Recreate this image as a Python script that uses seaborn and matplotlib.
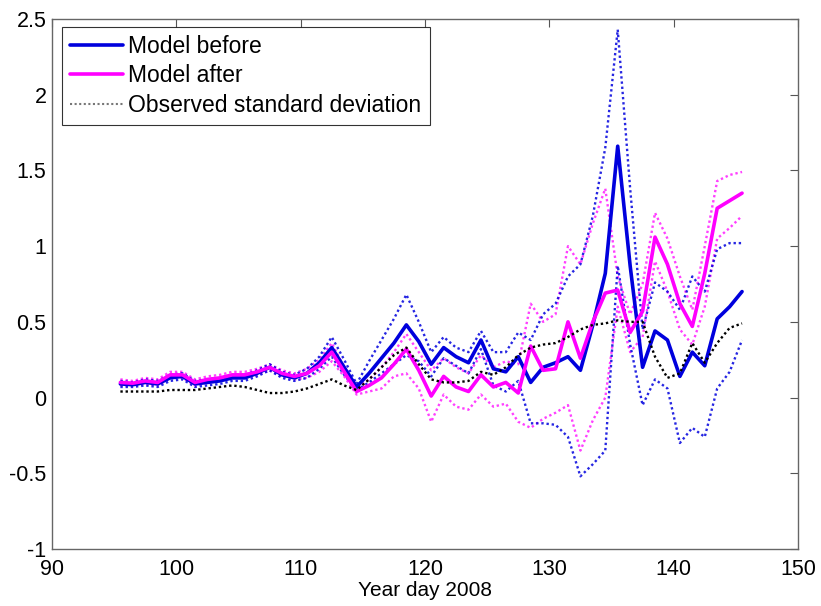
import numpy as np
import pandas as pd
import matplotlib
matplotlib.use("Agg")
import matplotlib.pyplot as plt
import seaborn as sns

days = [95.5, 96.5, 97.5, 98.5, 99.5, 100.5, 101.5, 102.5, 103.5, 104.5,
        105.5, 106.5, 107.5, 108.5, 109.5, 110.5, 111.5, 112.5, 113.5, 114.5,
        115.5, 116.5, 117.5, 118.5, 119.5, 120.5, 121.5, 122.5, 123.5, 124.5,
        125.5, 126.5, 127.5, 128.5, 129.5, 130.5, 131.5, 132.5, 133.5, 134.5,
        135.5, 136.5, 137.5, 138.5, 139.5, 140.5, 141.5, 142.5, 143.5, 144.5,
        145.5]

model_before = [0.09, 0.085, 0.10, 0.09, 0.13, 0.14, 0.09, 0.10, 0.11, 0.13,
                0.13, 0.16, 0.20, 0.15, 0.13, 0.16, 0.23, 0.33, 0.20, 0.07,
                0.16, 0.26, 0.36, 0.48, 0.37, 0.22, 0.33, 0.27, 0.23, 0.38,
                0.19, 0.17, 0.27, 0.10, 0.20, 0.23, 0.27, 0.18, 0.48, 0.82,
                1.66, 0.87, 0.20, 0.44, 0.38, 0.14, 0.30, 0.21, 0.52, 0.60,
                0.70]

model_after = [0.10, 0.095, 0.11, 0.10, 0.15, 0.15, 0.10, 0.12, 0.13, 0.15,
               0.15, 0.17, 0.20, 0.16, 0.14, 0.16, 0.21, 0.30, 0.17, 0.04,
               0.08, 0.13, 0.22, 0.32, 0.18, 0.01, 0.14, 0.07, 0.04, 0.15,
               0.07, 0.10, 0.03, 0.34, 0.18, 0.19, 0.50, 0.26, 0.50, 0.69,
               0.71, 0.43, 0.57, 1.06, 0.88, 0.62, 0.47, 0.82, 1.25, 1.30,
               1.35]

observed_std = [0.04, 0.04, 0.04, 0.04, 0.05, 0.05, 0.05, 0.06, 0.07, 0.08,
                0.07, 0.05, 0.03, 0.03, 0.04, 0.06, 0.09, 0.12, 0.08, 0.05,
                0.12, 0.20, 0.28, 0.33, 0.22, 0.12, 0.10, 0.10, 0.11, 0.17,
                0.15, 0.20, 0.28, 0.33, 0.35, 0.36, 0.40, 0.45, 0.48, 0.49,
                0.51, 0.50, 0.50, 0.27, 0.13, 0.16, 0.36, 0.23, 0.36, 0.46,
                0.49]

before_upper = [0.11, 0.10, 0.12, 0.11, 0.15, 0.16, 0.11, 0.12, 0.13, 0.15,
                0.15, 0.18, 0.22, 0.17, 0.15, 0.19, 0.27, 0.40, 0.25, 0.09,
                0.24, 0.38, 0.52, 0.68, 0.50, 0.30, 0.40, 0.33, 0.30, 0.44,
                0.30, 0.30, 0.43, 0.38, 0.55, 0.62, 0.80, 0.88, 1.20, 1.65,
                2.43, 1.38, 0.45, 0.76, 0.70, 0.58, 0.80, 0.70, 0.98, 1.02,
                1.02]

before_lower = [0.07, 0.07, 0.08, 0.07, 0.11, 0.12, 0.07, 0.08, 0.09, 0.11,
                0.11, 0.14, 0.18, 0.13, 0.11, 0.13, 0.19, 0.27, 0.15, 0.05,
                0.10, 0.16, 0.22, 0.28, 0.24, 0.14, 0.26, 0.21, 0.16, 0.32,
                0.08, 0.04, 0.11, -0.17, -0.17, -0.18, -0.26, -0.52, -0.44, -0.35,
                0.87, 0.35, -0.05, 0.12, 0.06, -0.30, -0.20, -0.26, 0.06, 0.17,
                0.38]

after_upper = [0.12, 0.11, 0.13, 0.12, 0.17, 0.17, 0.12, 0.14, 0.15, 0.17,
               0.17, 0.19, 0.22, 0.18, 0.16, 0.19, 0.25, 0.36, 0.20, 0.06,
               0.12, 0.20, 0.30, 0.42, 0.30, 0.18, 0.26, 0.20, 0.16, 0.28,
               0.20, 0.24, 0.22, 0.62, 0.50, 0.55, 1.00, 0.88, 1.15, 1.38,
               0.80, 0.55, 0.75, 1.22, 1.05, 0.80, 0.58, 1.00, 1.43, 1.47,
               1.49]

after_lower = [0.08, 0.08, 0.09, 0.08, 0.13, 0.13, 0.08, 0.10, 0.11, 0.13,
               0.13, 0.15, 0.18, 0.14, 0.12, 0.13, 0.17, 0.24, 0.14, 0.02,
               0.04, 0.06, 0.14, 0.16, 0.06, -0.16, 0.02, -0.06, -0.08, 0.02,
               -0.06, -0.04, -0.16, -0.20, -0.14, -0.10, -0.05, -0.35, -0.15, 0.00,
               0.60, 0.30, 0.40, 0.90, 0.70, 0.45, 0.35, 0.60, 1.05, 1.12,
               1.20]

x_ticks = [90, 100, 110, 120, 130, 140, 150]
y_ticks = [-1, -0.5, 0, 0.5, 1, 1.5, 2, 2.5]
y_tick_labels = ["-1", "-0.5", "0", "0.5", "1", "1.5", "2", "2.5"]

BLUE = "#0000DD"
MAGENTA = "#FF00FF"

sns.set_style("white")
plt.rcParams["font.family"] = ["Liberation Sans", "DejaVu Sans"]

df = pd.DataFrame({
    "day": days,
    "before": model_before,
    "after": model_after,
    "obs": observed_std,
    "bu": before_upper,
    "bl": before_lower,
    "au": after_upper,
    "al": after_lower,
})

fig = plt.figure(figsize=(8.21, 6.06), dpi=100)
ax = fig.add_axes([52 / 821, 1 - 549 / 606, 746 / 821, 530 / 606])

dot = (0, (1, 1.2))
for col in ["au", "al"]:
    sns.lineplot(data=df, x="day", y=col, ax=ax, color=MAGENTA, lw=1.7,
                 linestyle=dot, legend=False, alpha=0.75)
for col in ["bu", "bl"]:
    sns.lineplot(data=df, x="day", y=col, ax=ax, color=BLUE, lw=1.7,
                 linestyle=dot, legend=False, alpha=0.85)

sns.lineplot(data=df, x="day", y="before", ax=ax, color=BLUE, lw=2.6,
             label="Model before")
sns.lineplot(data=df, x="day", y="after", ax=ax, color=MAGENTA, lw=2.6,
             label="Model after")
sns.lineplot(data=df, x="day", y="obs", ax=ax, color="black", lw=1.7,
             linestyle=dot, label="Observed standard deviation")

ax.set_xlim(90, 150)
ax.set_ylim(-1, 2.5)
ax.set_xticks(x_ticks)
ax.set_xticklabels([str(t) for t in x_ticks])
ax.set_yticks(y_ticks)
ax.set_yticklabels(y_tick_labels)
ax.set_xlabel("Year day 2008", fontsize=15, labelpad=1, color="black")
ax.set_ylabel("")
ax.tick_params(direction="in", length=6, width=0.8, top=True, right=True,
               labelsize=15.5, colors="#555555", labelcolor="black")
ax.tick_params(axis="x", pad=7)
ax.tick_params(axis="y", pad=4)
for s in ax.spines.values():
    s.set_color("#666666")
    s.set_linewidth(1.0)

leg = ax.legend(loc="upper left", bbox_to_anchor=(10 / 746, 1 - 8 / 530),
                fontsize=16.5, frameon=True, fancybox=False, borderpad=0.35,
                handlelength=2.3, handletextpad=0.25, labelspacing=0.28,
                borderaxespad=0)
leg.get_frame().set_edgecolor("black")
leg.get_frame().set_linewidth(0.8)
for t in leg.get_texts():
    t.set_color("black")
for h in leg.get_lines():
    if h.get_label() == "Observed standard deviation":
        h.set_color("#777777")
        h.set_linewidth(1.5)

fig.savefig("out.png", dpi=100)
